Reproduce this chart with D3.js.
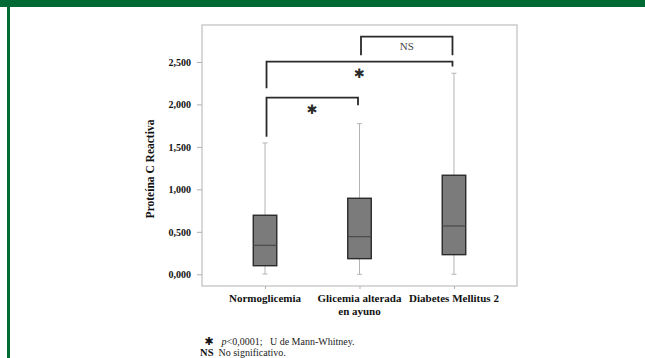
<!DOCTYPE html>
<html>
<head>
<meta charset="utf-8">
<script src="https://cdn.jsdelivr.net/npm/d3@7"></script>
<style>
body { margin: 0; background: white; }
text { font-family: "Liberation Serif", "Times New Roman", serif; }
</style>
</head>
<body>
<div id="chart"></div>
<script>
let width = 645;
let height = 358;

// data
let groups = ["Normoglicemia", "Glicemia alterada|en ayuno", "Diabetes Mellitus 2"];
let whiskerLow = [0.003, 0.0, 0.0];
let q1 = [0.101, 0.184, 0.231];
let medians = [0.341, 0.443, 0.569];
let q3 = [0.695, 0.895, 1.166];
let whiskerHigh = [1.546, 1.773, 2.367];
let yTicks = [0, 0.5, 1.0, 1.5, 2.0, 2.5];
let yTickLabels = ["0,000", "0,500", "1,000", "1,500", "2,000", "2,500"];

// significance brackets: from group, to group, top level, left leg end, right leg end, label
let bracketFrom = [0, 0, 1];
let bracketTo = [1, 2, 2];
let bracketTop = [2.08, 2.503, 2.798];
let bracketLeft = [1.62, 2.19, 2.58];
let bracketRight = [1.99, 2.445, 2.58];
let bracketLabel = ["✱", "✱", "NS"];

let svg = d3.select("#chart")
	.append("svg")
	.attr("width", width)
	.attr("height", height)
	.style("background-color", "white");

// green page frame
svg.append("rect").attr("x", 0).attr("y", 0).attr("width", width).attr("height", 7).attr("fill", "#006a35");
svg.append("rect").attr("x", 7).attr("y", 0).attr("width", 3).attr("height", height).attr("fill", "#006a35");

let plotLeft = 202, plotRight = 517, plotTop = 25, plotBottom = 286;

let x = d3.scalePoint().domain(d3.range(groups.length)).range([plotLeft, plotRight]).padding(0.667);
let y = d3.scaleLinear().domain([-0.138, 2.935]).range([plotBottom, plotTop]);

// plot frame
svg.append("rect")
	.attr("x", plotLeft).attr("y", plotTop)
	.attr("width", plotRight - plotLeft).attr("height", plotBottom - plotTop)
	.attr("fill", "none")
	.attr("stroke", "#c4c4c4")
	.attr("stroke-width", 1.3);

// y axis
let yAxis = d3.axisLeft(y).tickValues(yTicks)
	.tickFormat(function(d, i){ return yTickLabels[i]; })
	.tickSize(5).tickPadding(6);
let gy = svg.append("g").attr("transform", "translate(" + plotLeft + ",0)").call(yAxis);
gy.select(".domain").remove();
gy.selectAll(".tick line").attr("stroke", "#b0b0b0");
gy.selectAll(".tick text")
	.style("font-family", "Liberation Serif")
	.style("font-size", "10px")
	.style("font-weight", "bold")
	.attr("fill", "#111");

// x axis
let xAxis = d3.axisBottom(x).tickSize(3).tickFormat("");
let gx = svg.append("g").attr("transform", "translate(0," + plotBottom + ")").call(xAxis);
gx.select(".domain").remove();
gx.selectAll(".tick line").attr("stroke", "#b0b0b0");

svg.append("g").selectAll(".xlabel")
	.data(groups)
	.enter().append("text")
	.attr("x", function(d, i){ return x(i); })
	.attr("y", 302)
	.attr("text-anchor", "middle")
	.style("font-size", "11px")
	.style("font-weight", "bold")
	.attr("fill", "#111")
	.each(function(d){
		let parts = d.split("|");
		let t = d3.select(this);
		parts.forEach(function(p, j){
			t.append("tspan").attr("x", t.attr("x")).attr("dy", j === 0 ? 0 : 13).text(p);
		});
	});

// y title
svg.append("text")
	.attr("transform", "translate(154," + 169 + ") rotate(-90)")
	.attr("text-anchor", "middle")
	.style("font-size", "11.5px")
	.style("font-weight", "bold")
	.attr("fill", "#111")
	.text("Proteína C Reactiva");

// boxes
let boxW = 23.5, capW = 5;
let boxes = svg.append("g").selectAll(".box")
	.data(groups)
	.enter().append("g").classed("box", true);

boxes.append("line")
	.attr("x1", function(d, i){ return x(i); })
	.attr("x2", function(d, i){ return x(i); })
	.attr("y1", function(d, i){ return y(whiskerLow[i]); })
	.attr("y2", function(d, i){ return y(whiskerHigh[i]); })
	.attr("stroke", "#b4b4b4").attr("stroke-width", 1);

[whiskerLow, whiskerHigh].forEach(function(arr){
	boxes.append("line")
		.attr("x1", function(d, i){ return x(i) - capW / 2; })
		.attr("x2", function(d, i){ return x(i) + capW / 2; })
		.attr("y1", function(d, i){ return y(arr[i]); })
		.attr("y2", function(d, i){ return y(arr[i]); })
		.attr("stroke", "#b4b4b4").attr("stroke-width", 1);
});

boxes.append("rect")
	.attr("x", function(d, i){ return x(i) - boxW / 2; })
	.attr("width", boxW)
	.attr("y", function(d, i){ return y(q3[i]); })
	.attr("height", function(d, i){ return y(q1[i]) - y(q3[i]); })
	.attr("fill", "#7b7b7b")
	.attr("stroke", "#2a2a2a")
	.attr("stroke-width", 1.4);

boxes.append("line")
	.attr("x1", function(d, i){ return x(i) - boxW / 2; })
	.attr("x2", function(d, i){ return x(i) + boxW / 2; })
	.attr("y1", function(d, i){ return y(medians[i]); })
	.attr("y2", function(d, i){ return y(medians[i]); })
	.attr("stroke", "#4a4a4a").attr("stroke-width", 1.2);

// brackets
let brackets = svg.append("g").selectAll(".bracket")
	.data(bracketLabel)
	.enter().append("g").classed("bracket", true);

brackets.append("path")
	.attr("d", function(d, i){
		let x1 = x(bracketFrom[i]) + 1.5, x2 = x(bracketTo[i]) - 1.5;
		return "M" + x1 + "," + y(bracketLeft[i]) + "V" + y(bracketTop[i]) +
			"H" + x2 + "V" + y(bracketRight[i]);
	})
	.attr("fill", "none")
	.attr("stroke", "#2a2a2a")
	.attr("stroke-width", 1.8);

brackets.append("text")
	.attr("x", function(d, i){ return (x(bracketFrom[i]) + x(bracketTo[i])) / 2; })
	.attr("y", function(d, i){ return y(bracketTop[i]) + (d === "NS" ? 13 : 16.5); })
	.attr("text-anchor", "middle")
	.style("font-family", function(d){ return d === "NS" ? "Liberation Serif" : "DejaVu Sans"; })
	.style("font-size", function(d){ return d === "NS" ? "11px" : "13px"; })
	.attr("fill", function(d){ return d === "NS" ? "#444" : "#2a2a2a"; })
	.text(function(d){ return d; });

// footnote legend
let legendSym = ["✱", "NS"];
let legendText = ["p<0,0001;   U de Mann-Whitney.", "No significativo."];
let legend = svg.append("g").selectAll(".legends")
	.data(legendSym)
	.enter().append("g").classed("legends", true)
	.attr("transform", function(d, i){ return "translate(0," + (345 + i * 10.5) + ")"; });

legend.append("text")
	.attr("x", 213.5)
	.attr("text-anchor", "end")
	.style("font-family", function(d){ return d === "NS" ? "Liberation Serif" : "DejaVu Sans"; })
	.style("font-size", function(d){ return d === "NS" ? "10.5px" : "11px"; })
	.style("font-weight", "bold")
	.attr("fill", "#111")
	.text(function(d){ return d; });

legend.append("text")
	.attr("x", function(d, i){ return i === 0 ? 221.5 : 218.5; })
	.style("font-size", "10px")
	.attr("fill", "#222")
	.each(function(d, i){
		let t = d3.select(this);
		if (i === 0) {
			t.append("tspan").style("font-style", "italic").text("p");
			t.append("tspan").text("<0,0001;\u00a0\u00a0 U de Mann-Whitney.");
		} else {
			t.text(legendText[i]);
		}
	});
</script>
</body>
</html>
